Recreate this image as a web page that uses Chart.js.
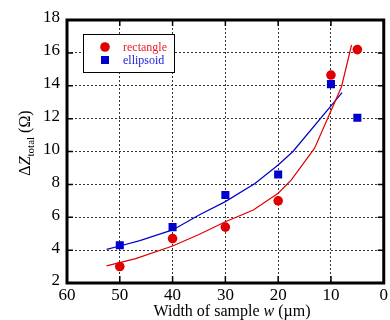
<!DOCTYPE html>
<html>
<head>
<meta charset="utf-8">
<script src="https://cdn.jsdelivr.net/npm/chart.js@4.4.1/dist/chart.umd.min.js"></script>
<style>
  html, body { margin: 0; padding: 0; background: #fff; }
  #wrap { width: 390px; height: 320px; }
</style>
</head>
<body>
<div id="wrap"><canvas id="zChart" width="390" height="320"></canvas></div>
<script>
// measured points
const widths = [50, 40, 30, 20, 10, 5];
const rectangleZ = [3.0, 4.7, 5.4, 7.0, 14.65, 16.2];
const ellipsoidZ = [4.3, 5.4, 7.35, 8.6, 14.1, 12.05];

// calculated curves
const rectFitW = [52.5, 47, 40, 35, 30, 24.7, 20, 17.5, 13.1, 8.0, 6.1];
const rectFitZ = [3.04, 3.48, 4.25, 4.95, 5.73, 6.44, 7.46, 8.27, 10.2, 13.94, 16.48];
const ellFitW = [52.5, 50, 46.2, 40, 34.8, 30, 24.4, 20, 17.2, 7.9];
const ellFitZ = [4.05, 4.25, 4.58, 5.23, 6.17, 6.95, 8.06, 9.18, 10.0, 13.58];

const xTicks = [60, 50, 40, 30, 20, 10, 0];
const yTicks = [2, 4, 6, 8, 10, 12, 14, 16, 18];

const RED = '#e00000';
const BLUE = '#0000cc';
const SERIF = '"Liberation Serif", "DejaVu Serif", serif';

const toXY = (xs, ys) => xs.map((x, i) => ({ x: x, y: ys[i] }));

// frame, inner ticks, legend and axis titles
const decorPlugin = {
    id: 'decor',
    afterDraw(chart) {
        const ctx = chart.ctx;
        const a = chart.chartArea;
        const xs = chart.scales.x, ys = chart.scales.y;
        ctx.save();
        ctx.strokeStyle = '#000';
        ctx.lineWidth = 1.5;
        xTicks.forEach(v => {
            const px = xs.getPixelForValue(v);
            ctx.beginPath();
            ctx.moveTo(px, a.bottom); ctx.lineTo(px, a.bottom - 7);
            ctx.moveTo(px, a.top); ctx.lineTo(px, a.top + 6);
            ctx.stroke();
        });
        yTicks.forEach(v => {
            const py = ys.getPixelForValue(v);
            ctx.beginPath();
            ctx.moveTo(a.left, py); ctx.lineTo(a.left + 6, py);
            ctx.moveTo(a.right, py); ctx.lineTo(a.right - 6, py);
            ctx.stroke();
        });
        ctx.lineWidth = 3;
        ctx.strokeRect(a.left, a.top, a.right - a.left, a.bottom - a.top);

        // legend box
        ctx.fillStyle = '#fff';
        ctx.fillRect(83, 34, 91, 38);
        ctx.lineWidth = 1;
        ctx.strokeRect(83.5, 34.5, 91, 38);
        ctx.fillStyle = RED;
        ctx.beginPath(); ctx.arc(105, 47, 4.8, 0, Math.PI * 2); ctx.fill();
        ctx.fillStyle = BLUE;
        ctx.fillRect(101, 56, 8, 8);
        ctx.font = '12px ' + SERIF;
        ctx.textBaseline = 'middle';
        ctx.textAlign = 'left';
        ctx.fillStyle = '#e8202a';
        ctx.fillText('rectangle', 123, 48);
        ctx.fillStyle = '#1a1ae0';
        ctx.fillText('ellipsoid', 123, 61);

        // x title
        ctx.fillStyle = '#000';
        ctx.textBaseline = 'alphabetic';
        const parts = [['Width of sample ', ''], ['w', 'italic '], [' (\u00b5m)', '']];
        let total = 0;
        parts.forEach(p => { ctx.font = p[1] + '16px ' + SERIF; total += ctx.measureText(p[0]).width; });
        let x = 232 - total / 2;
        parts.forEach(p => {
            ctx.font = p[1] + '16px ' + SERIF;
            ctx.fillText(p[0], x, 316);
            x += ctx.measureText(p[0]).width;
        });

        // y title, rotated
        ctx.translate(30, 143);
        ctx.rotate(-Math.PI / 2);
        const yparts = [['\u0394', '16px ', 0], ['Z', 'italic 16px ', 0], ['total', '11px ', 4], [' (\u03a9)', '16px ', 0]];
        total = 0;
        yparts.forEach(p => { ctx.font = p[1] + SERIF; total += ctx.measureText(p[0]).width; });
        x = -total / 2;
        yparts.forEach(p => {
            ctx.font = p[1] + SERIF;
            ctx.fillText(p[0], x, p[2]);
            x += ctx.measureText(p[0]).width;
        });
        ctx.restore();
    }
};

const zChart = new Chart(document.getElementById('zChart'), {
    type: 'scatter',
    data: {
        datasets: [
            {
                label: 'rectangle',
                data: toXY(widths, rectangleZ),
                pointStyle: 'circle',
                pointRadius: 4.8,
                backgroundColor: RED,
                borderWidth: 0,
                order: 0
            },
            {
                label: 'ellipsoid',
                data: toXY(widths, ellipsoidZ),
                pointStyle: 'rect',
                pointRadius: 5.7,
                backgroundColor: BLUE,
                borderWidth: 0,
                order: 0
            },
            {
                label: 'rectangle fit',
                data: toXY(rectFitW, rectFitZ),
                showLine: true,
                pointRadius: 0,
                borderColor: RED,
                borderWidth: 1.2,
                order: 1
            },
            {
                label: 'ellipsoid fit',
                data: toXY(ellFitW, ellFitZ),
                showLine: true,
                pointRadius: 0,
                borderColor: BLUE,
                borderWidth: 1.2,
                order: 1
            }
        ]
    },
    options: {
        responsive: false,
        animation: false,
        layout: { padding: { top: 20, right: 6, left: 0, bottom: 0 } },
        plugins: { legend: { display: false }, tooltip: { enabled: false } },
        scales: {
            x: {
                type: 'linear',
                reverse: true,
                min: 0,
                max: 60,
                afterFit: s => { s.height = 37; },
                ticks: { stepSize: 10, color: '#000', padding: 2, font: { family: SERIF, size: 17 } },
                grid: { color: '#333', lineWidth: 1, drawTicks: false },
                border: { display: false, dash: [2, 2] }
            },
            y: {
                min: 2,
                max: 18,
                afterFit: s => { s.width = 67; },
                ticks: { stepSize: 2, color: '#000', padding: 7, labelOffset: -2, font: { family: SERIF, size: 17 } },
                grid: { color: '#333', lineWidth: 1, drawTicks: false },
                border: { display: false, dash: [2, 2] }
            }
        }
    },
    plugins: [decorPlugin]
});
</script>
</body>
</html>
